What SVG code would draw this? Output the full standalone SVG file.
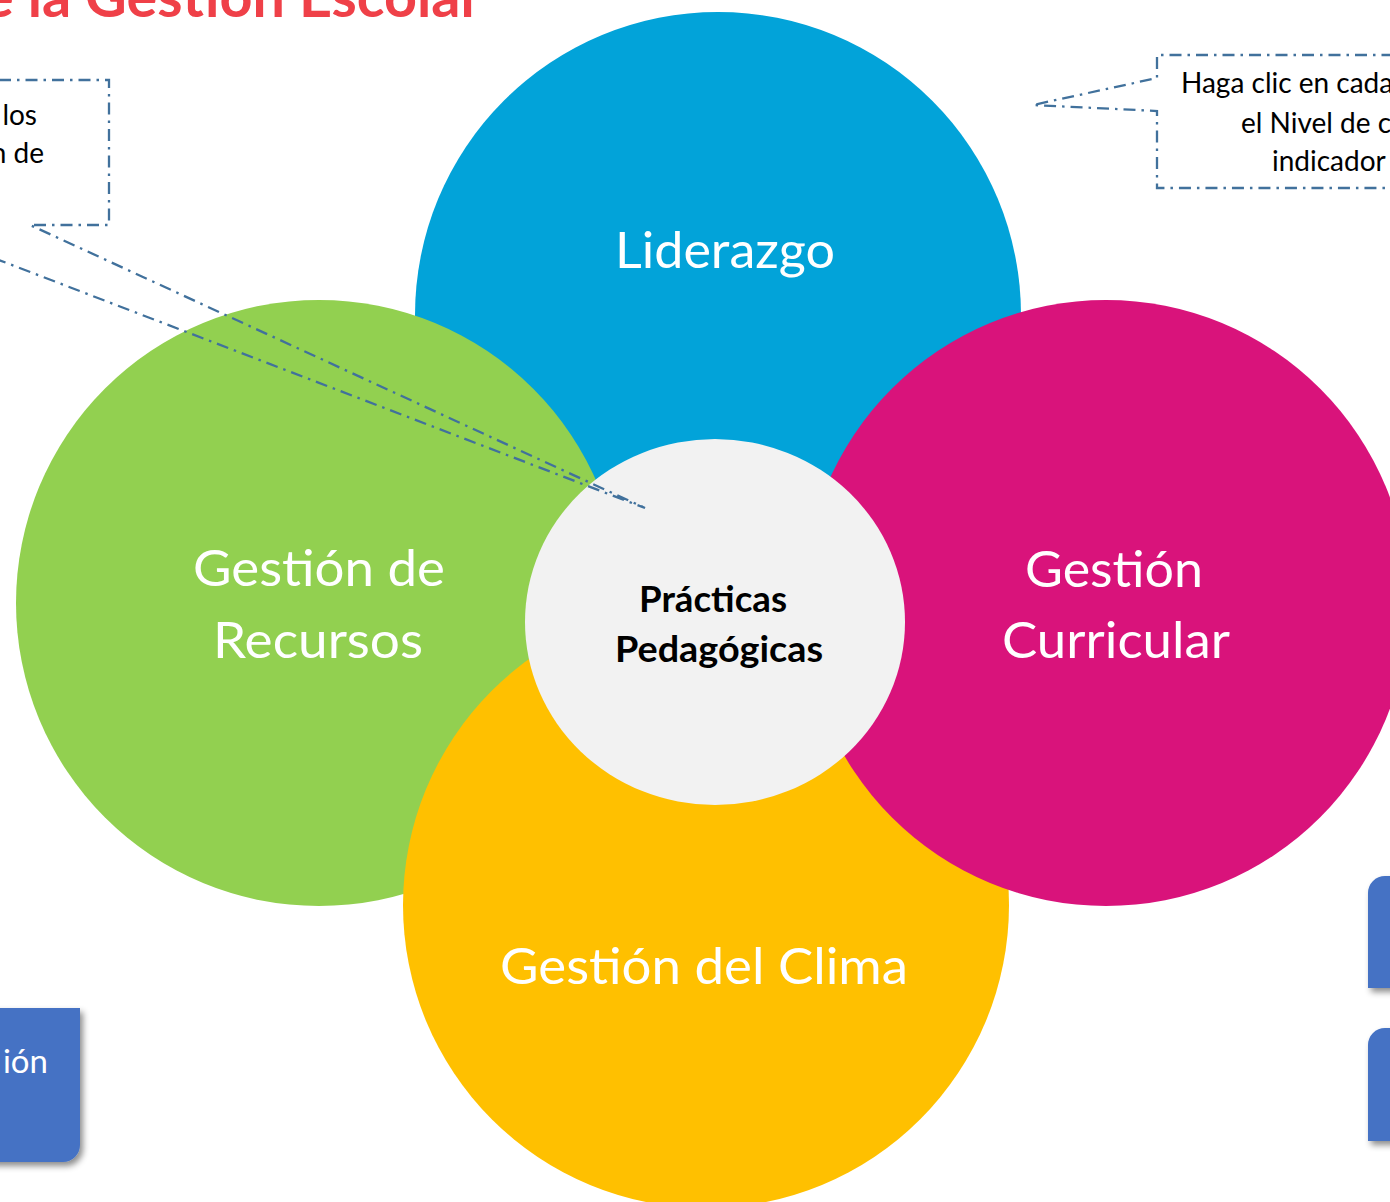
<svg xmlns="http://www.w3.org/2000/svg" width="1390" height="1202" viewBox="0 0 1390 1202">
<defs>
<style>
.lbl{font-family:Lato,"Open Sans","Liberation Sans",sans-serif;fill:#FFFFFF;font-size:50px;text-anchor:middle}
.ctr{font-family:Lato,"Open Sans","Liberation Sans",sans-serif;fill:#000000;font-size:37px;font-weight:bold;text-anchor:middle}
.note{font-family:Lato,"Open Sans","Liberation Sans",sans-serif;fill:#000000;font-size:28px}
.call{fill:none;stroke:#41719C;stroke-width:2.3;stroke-dasharray:12 6 2.5 6}
.btn{fill:#4472C4;filter:url(#sh)}
</style>
<filter id="sh" x="-20%" y="-20%" width="150%" height="150%">
<feDropShadow dx="3" dy="4" stdDeviation="3" flood-color="#000" flood-opacity="0.45"/>
</filter>
</defs>
<rect width="1390" height="1202" fill="#FFFFFF"/>
<text x="482" y="17" font-family="Lato,'Open Sans','Liberation Sans',sans-serif" font-size="57.5" font-weight="bold" fill="#EF4048" text-anchor="end">de la Gestión Escolar</text>

<g id="liderazgo">
<circle cx="718" cy="315" r="303" fill="#02A3D9"/>
<text class="lbl" x="725" y="268" textLength="220" lengthAdjust="spacingAndGlyphs">Liderazgo</text>
</g>
<g id="recursos">
<circle cx="319" cy="603" r="303" fill="#92D050"/>
<text class="lbl" x="319" y="586" textLength="252" lengthAdjust="spacingAndGlyphs">Gestión de</text>
<text class="lbl" x="318" y="658" textLength="210" lengthAdjust="spacingAndGlyphs">Recursos</text>
</g>
<g id="clima">
<circle cx="706" cy="905" r="303" fill="#FFC000"/>
<text class="lbl" x="704" y="984" textLength="408" lengthAdjust="spacingAndGlyphs">Gestión del Clima</text>
</g>
<g id="curricular">
<circle cx="1106" cy="603" r="303" fill="#D9137B"/>
<text class="lbl" x="1114" y="587" textLength="178" lengthAdjust="spacingAndGlyphs">Gestión</text>
<text class="lbl" x="1116" y="658" textLength="228" lengthAdjust="spacingAndGlyphs">Curricular</text>
</g>
<g id="practicas">
<ellipse cx="715" cy="622" rx="190" ry="183" fill="#F2F2F2"/>
<text class="ctr" x="713" y="612" textLength="148" lengthAdjust="spacingAndGlyphs">Prácticas</text>
<text class="ctr" x="719" y="662" textLength="208" lengthAdjust="spacingAndGlyphs">Pedagógicas</text>
</g>

<g id="connectors">
<path class="call" d="M-160 80 H109 V225 H30 L645 508 L-160 199"/>
<path class="call" d="M1420 55 H1157 V78 L1033 105 L1157 111 V188 H1420"/>
</g>

<g id="nota-izquierda">
<text class="note" x="37" y="125" text-anchor="end">los</text>
<text class="note" x="44" y="163" text-anchor="end">n de</text>
</g>
<g id="nota-derecha">
<text class="note" x="1181" y="93">Haga clic en cada</text>
<text class="note" x="1241" y="133">el Nivel de c</text>
<text class="note" x="1272" y="171">indicador</text>
</g>

<g id="boton-izquierdo">
<path class="btn" d="M-100 1008 H80 V1145 A17 17 0 0 1 63 1162 H-100 Z"/>
<text x="48" y="1073" font-family="Lato,'Open Sans','Liberation Sans',sans-serif" font-size="33" fill="#FFFFFF" text-anchor="end">ión</text>
</g>
<g id="boton-derecho-1">
<path class="btn" d="M1385 876 H1500 V988 H1368 V893 A17 17 0 0 1 1385 876 Z"/>
</g>
<g id="boton-derecho-2">
<path class="btn" d="M1385 1028 H1500 V1141 H1368 V1045 A17 17 0 0 1 1385 1028 Z"/>
</g>
</svg>
